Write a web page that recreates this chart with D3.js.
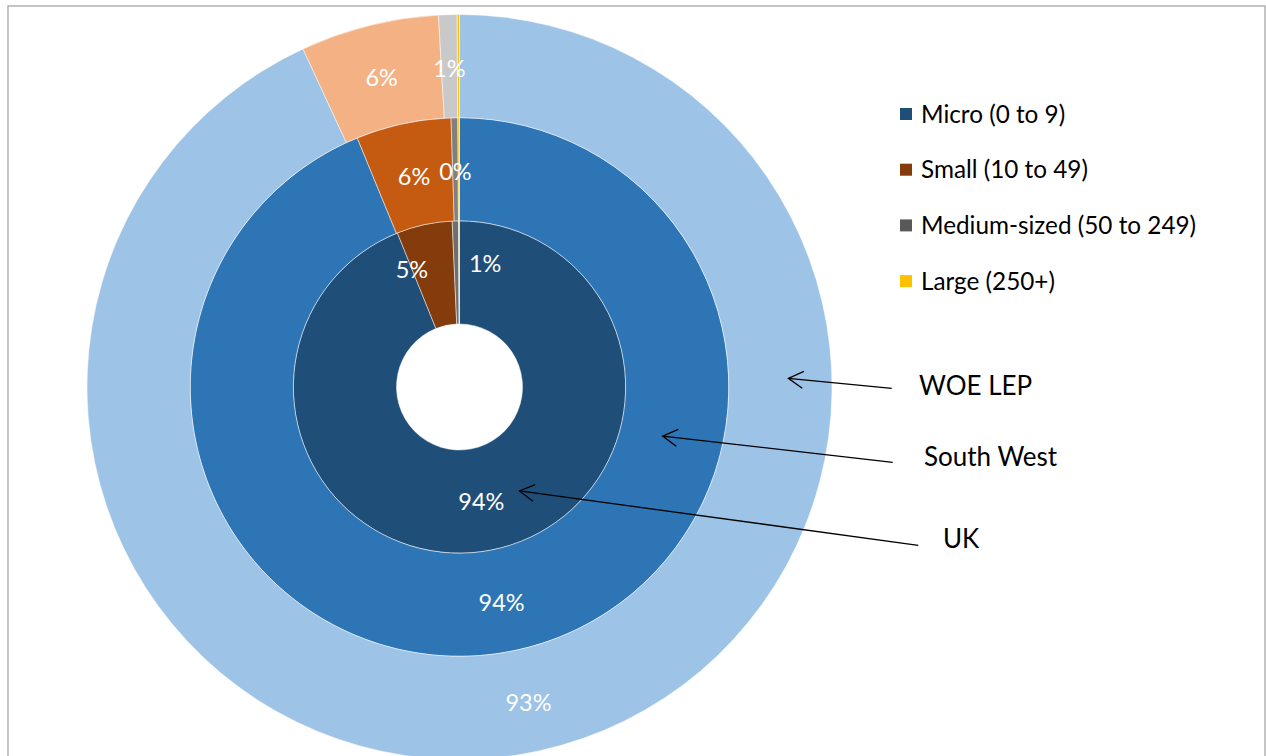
<!DOCTYPE html>
<html><head><meta charset="utf-8">
<script src="https://cdn.jsdelivr.net/npm/d3@7"></script>
<style>
body{margin:0;background:#fff}
svg{display:block}
text{font-family:Lato,"Open Sans",sans-serif}
</style>
</head><body>
<svg id="c" width="1266" height="756"></svg>
<script>
// ---------------- data ----------------
const categories = ["Micro (0 to 9)", "Small (10 to 49)", "Medium-sized (50 to 249)", "Large (250+)"];
const rings = ["UK", "South West", "WOE LEP"];          // inner -> outer
const ukValues = [93.9, 5.4, 0.6, 0.1];
const southWestValues = [93.8, 5.7, 0.4, 0.1];
const woeLepValues = [93.1, 6.0, 0.8, 0.1];
const ringValues = [ukValues, southWestValues, woeLepValues];
const labelledCategories = [0, 1, 2];   // "Large" labels are not shown

// ---------------- styles ----------------
const legendColors = ["#1F4E79", "#843C0C", "#595959", "#FFC000"];
const ringColors = [
  ["#1F4E79", "#843C0C", "#6E6E6E", "#D9B44A"],
  ["#2E75B6", "#C55A11", "#808080", "#FFC000"],
  ["#9DC3E6", "#F4B183", "#C9C9C9", "#FFC000"]
];

const W = 1266, H = 756;
const cx = 459.5, cy = 387;
const holeR = 63, outerR = 372.5;
const svg = d3.select("#c");

// frame
svg.append("rect").attr("x", 8).attr("y", 6).attr("width", 1257).attr("height", 760)
  .attr("fill", "none").attr("stroke", "#a6a6a6").attr("stroke-width", 1.3);

const g = svg.append("g").attr("transform", `translate(${cx},${cy})`);

const rScale = d3.scaleLinear().domain([0, rings.length]).range([holeR, outerR]);
const pie = d3.pie().sort(null).value(d => d).startAngle(0).endAngle(2 * Math.PI);
const fmt = v => Math.round(v) + "%";

// label nudges (Excel moved colliding UK labels)
const nudges = {"0-1": {dA: -9.4, dR: 14.5}, "0-2": {dA: 13, dR: 13.5}};

ringValues.forEach((vals, ri) => {
  const arc = d3.arc().innerRadius(rScale(ri)).outerRadius(rScale(ri + 1));
  const arcs = pie(vals);
  g.append("g").selectAll("path").data(arcs).join("path")
    .attr("d", arc)
    .attr("fill", (d, i) => ringColors[ri][i])
    .attr("stroke", "#fff").attr("stroke-width", 0.8).attr("stroke-opacity", 0.6);

  const midR = (rScale(ri) + rScale(ri + 1)) / 2;
  g.append("g").selectAll("text").data(arcs.filter((d, i) => labelledCategories.includes(i))).join("text")
    .attr("transform", d => {
      const n = nudges[ri + "-" + d.index] || {dA: 0, dR: 0};
      const a = (d.startAngle + d.endAngle) / 2 + n.dA * Math.PI / 180;
      const r = midR + n.dR;
      return `translate(${r * Math.sin(a)},${-r * Math.cos(a)})`;
    })
    .attr("text-anchor", "middle").attr("dy", "0.45em")
    .attr("fill", "#fff").attr("font-size", 23.5)
    .text(d => fmt(d.data));
});

// legend
const lg = svg.append("g").attr("transform", "translate(900,114)");
categories.forEach((c, i) => {
  const row = lg.append("g").attr("transform", `translate(0,${i * 55.7})`);
  row.append("rect").attr("x", 0).attr("y", -6).attr("width", 12).attr("height", 12).attr("fill", legendColors[i]);
  row.append("text").attr("x", 21).attr("dy", "0.35em").attr("font-size", 24.3).attr("fill", "#000").text(c);
});

// ring annotations: tip given as (angle deg clockwise from top, radius), tail & label in chart coords
const annotations = [
  {ring: 2, tipA: 88.5, tipR: 329, tail: [891.7, 388.3], label: [919, 386]},
  {ring: 1, tipA: 103.6, tipR: 209, tail: [892.7, 462.3], label: [924, 457]},
  {ring: 0, tipA: 150.0, tipR: 120, tail: [918.3, 545.3], label: [943, 539]}
];
annotations.forEach(a => {
  const t = a.tipA * Math.PI / 180;
  const tip = [cx + a.tipR * Math.sin(t), cy - a.tipR * Math.cos(t)];
  svg.append("line").attr("x1", a.tail[0]).attr("y1", a.tail[1]).attr("x2", tip[0]).attr("y2", tip[1])
    .attr("stroke", "#000").attr("stroke-width", 1.3);
  const ang = Math.atan2(a.tail[1] - tip[1], a.tail[0] - tip[0]);
  const L = 17, spread = 0.52;
  const p1 = [tip[0] + L * Math.cos(ang - spread), tip[1] + L * Math.sin(ang - spread)];
  const p2 = [tip[0] + L * Math.cos(ang + spread), tip[1] + L * Math.sin(ang + spread)];
  svg.append("path").attr("d", `M${p1}L${tip}L${p2}`).attr("fill", "none")
    .attr("stroke", "#000").attr("stroke-width", 1.3);
  svg.append("text").attr("x", a.label[0]).attr("y", a.label[1]).attr("dy", "0.35em")
    .attr("font-size", 26).attr("fill", "#000").text(rings[a.ring]);
});
</script>
</body></html>
